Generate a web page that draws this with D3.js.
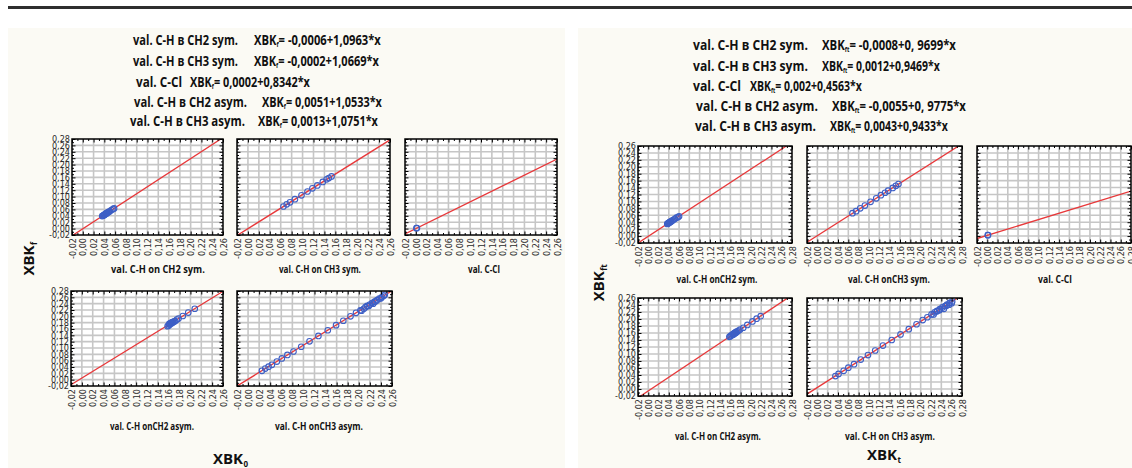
<!DOCTYPE html>
<html><head><meta charset="utf-8">
<script src="https://cdn.jsdelivr.net/npm/d3@7"></script>
<style>body{margin:0;background:#fff;} svg{display:block;}</style>
</head><body>
<svg id="c" width="1132" height="468"></svg>
<script>
// ---------- DATA ----------
const ticksLX = [-0.02,0.00,0.02,0.04,0.06,0.08,0.10,0.12,0.14,0.16,0.18,0.20,0.22,0.24,0.26];
const ticksLY = [-0.02,0.00,0.02,0.04,0.06,0.08,0.10,0.12,0.14,0.16,0.18,0.20,0.22,0.24,0.26,0.28];
const ticksRX = [-0.02,0.00,0.02,0.04,0.06,0.08,0.10,0.12,0.14,0.16,0.18,0.20,0.22,0.24,0.26,0.28];
const ticksRY = [-0.02,0.00,0.02,0.04,0.06,0.08,0.10,0.12,0.14,0.16,0.18,0.20,0.22,0.24,0.26];

const leftIntercepts = [-0.0006,-0.0002,0.0002,0.0051,0.0013];
const leftSlopes     = [1.0963,1.0669,0.8342,1.0533,1.0751];
const rightIntercepts = [-0.0008,0.0012,0.002,-0.0055,0.0043];
const rightSlopes     = [0.9699,0.9469,0.4563,0.9775,0.9433];

const leftEqLabels = ["val. C-H в CH2 sym.","val. C-H в CH3 sym.","val. C-Cl","val. C-H в CH2 asym.","val. C-H в CH3 asym."];
const leftEqFormulas = ["= -0,0006+1,0963*x","= -0,0002+1,0669*x","= 0,0002+0,8342*x","= 0,0051+1,0533*x","= 0,0013+1,0751*x"];
const rightEqLabels = ["val. C-H в CH2 sym.","val. C-H в CH3 sym.","val. C-Cl","val. C-H в CH2 asym.","val. C-H в CH3 asym."];
const rightEqFormulas = ["= -0,0008+0, 9699*x","= 0,0012+0,9469*x","= 0,002+0,4563*x","= -0,0055+0, 9775*x","= 0,0043+0,9433*x"];

const leftTitles = ["val. C-H on CH2 sym.","val. C-H on CH3 sym.","val. C-Cl","val. C-H onCH2 asym.","val. C-H onCH3 asym."];
const rightTitles = ["val. C-H onCH2 sym.","val. C-H onCH3 sym.","val. C-Cl","val. C-H on CH2 asym.","val. C-H  on CH3 asym."];

// left: CH2 sym
const l1x = [0.036,0.038,0.039,0.040,0.041,0.042,0.043,0.044,0.045,0.046,0.048,0.050,0.053,0.056,0.058];
const l1y = [0.039,0.041,0.042,0.043,0.044,0.046,0.047,0.047,0.049,0.050,0.052,0.054,0.058,0.061,0.063];
// left: CH3 sym
const l2x = [0.065,0.071,0.077,0.086,0.098,0.109,0.118,0.127,0.137,0.144,0.148,0.153];
const l2y = [0.069,0.076,0.082,0.092,0.104,0.116,0.126,0.135,0.146,0.154,0.158,0.163];
// left: C-Cl
const l3x = [0.001,0.002];
const l3y = [0.0012,0.0019];
// left: CH2 asym
const l4x = [0.158,0.160,0.161,0.162,0.163,0.164,0.165,0.166,0.167,0.168,0.170,0.172,0.175,0.178,0.186,0.196,0.208];
const l4y = [0.169,0.171,0.176,0.174,0.178,0.177,0.180,0.179,0.182,0.181,0.184,0.185,0.190,0.193,0.201,0.212,0.224];
// left: CH3 asym
const l5x = [0.025,0.031,0.037,0.043,0.052,0.061,0.071,0.082,0.096,0.111,0.127,0.144,0.159,0.172,0.185,0.195,0.203,0.205,0.209,0.212,0.215,0.218,0.220,0.224,0.226,0.228,0.230,0.233,0.237,0.240,0.242,0.245,0.247];
const l5y = [0.028,0.035,0.041,0.047,0.057,0.067,0.078,0.089,0.104,0.121,0.138,0.156,0.172,0.186,0.200,0.211,0.219,0.218,0.224,0.229,0.233,0.233,0.237,0.242,0.240,0.246,0.247,0.251,0.256,0.257,0.261,0.265,0.268];
// right: CH2 sym
const r1x = [0.037,0.038,0.039,0.040,0.041,0.042,0.043,0.044,0.045,0.047,0.049,0.052,0.055,0.058,0.060];
const r1y = [0.035,0.036,0.037,0.038,0.039,0.040,0.041,0.042,0.043,0.045,0.047,0.050,0.053,0.055,0.057];
// right: CH3 sym
const r2x = [0.068,0.075,0.083,0.092,0.103,0.114,0.123,0.131,0.137,0.146,0.152,0.157];
const r2y = [0.066,0.072,0.080,0.088,0.099,0.109,0.118,0.125,0.131,0.139,0.145,0.150];
// right: C-Cl
const r3x = [0.001,0.0015];
const r3y = [0.0025,0.003];
// right: CH2 asym
const r4x = [0.158,0.160,0.162,0.164,0.165,0.166,0.167,0.168,0.169,0.170,0.171,0.172,0.174,0.176,0.179,0.185,0.193,0.203,0.211,0.219];
const r4y = [0.149,0.151,0.153,0.155,0.157,0.156,0.158,0.160,0.159,0.161,0.163,0.162,0.165,0.167,0.170,0.175,0.183,0.193,0.201,0.208];
// right: CH3 asym
const r5x = [0.035,0.041,0.051,0.060,0.071,0.084,0.098,0.112,0.127,0.144,0.161,0.177,0.192,0.204,0.213,0.221,0.225,0.227,0.231,0.232,0.236,0.237,0.242,0.245,0.247,0.250,0.251,0.255,0.256,0.260,0.261];
const r5y = [0.037,0.043,0.052,0.061,0.071,0.084,0.097,0.110,0.124,0.140,0.156,0.171,0.185,0.197,0.205,0.213,0.213,0.219,0.222,0.223,0.225,0.228,0.233,0.229,0.237,0.238,0.241,0.241,0.246,0.245,0.250];

// ---------- LAYOUT ----------
const svg = d3.select("#c");
const BOLD = "'Open Sans','Noto Sans','DejaVu Sans',sans-serif";
const NARROW = "'Liberation Sans Narrow','Arial Narrow','DejaVu Sans Condensed',sans-serif";
const fmt = v => (v < -1e-9 ? "-" : "") + Math.abs(v).toFixed(2).replace(".", ",");

svg.append("rect").attr("x",8).attr("y",6).attr("width",1124).attr("height",3).attr("fill","#2e2e2e");
svg.append("rect").attr("x",8).attr("y",28).attr("width",557).attr("height",440).attr("fill","#fbfaf4");
svg.append("rect").attr("x",578).attr("y",28).attr("width",554).attr("height",440).attr("fill","#fbfaf4");

const leftFrames = [
  {x0:72,x1:223,y0:139,y1:235},{x0:237,x1:390,y0:139,y1:235},{x0:405,x1:557,y0:139,y1:235},
  {x0:71,x1:223,y0:291,y1:386},{x0:237,x1:392,y0:291,y1:386}];
const rightFrames = [
  {x0:638,x1:792,y0:146,y1:243},{x0:807,x1:962,y0:146,y1:243},{x0:977,x1:1131,y0:146,y1:243},
  {x0:638,x1:792,y0:298,y1:396},{x0:807,x1:962,y0:298,y1:396}];
const leftTitlePos = [[158,273,94],[320,273,82],[484,273,32],[152,430,84],[319,430,88]];
const rightTitlePos = [[717,283,81],[889,283,82],[1055,283,34],[718,440,86],[890,440,90]];
// [label start, label end, formula start, formula end, baseline]
const leftEqPos = [[133,238,254,381,45],[133,238,254,379,66],[136,182,190,310,87],[134,247,262,382,107],[130,245,258,378,126]];
const rightEqPos = [[693,808,822,956,50],[693,808,822,940,71],[693,741,750,862,91],[696,818,832,966,111],[695,816,830,948,131]];

let clipId = 0;
function mids(t){ const m=[]; for(let i=0;i<t.length-1;i++) m.push((t[i]+t[i+1])/2); return m; }

// text run made of separate pieces [string, sizeFactor, dy], horizontally scaled to a target width
function run(x0, yb, size, parts, target){
  const g = svg.append("g");
  const els = parts.map(p => g.append("text").attr("y", p[2]||0).text(p[0])
    .attr("font-family",BOLD).attr("font-weight",700).attr("font-size",size*(p[1]||1)).attr("fill","#111"));
  const w = els.map(e => e.node().getComputedTextLength());
  let cx = 0;
  els.forEach((e,i)=>{ e.attr("x",cx); cx += w[i]; });
  const k = target ? target/cx : 1;
  g.attr("transform",`translate(${x0},${yb}) scale(${k},1)`);
}

function plot(f, xt, yt, xs, ys, a, b, showY, title, tpos){
  const g = svg.append("g");
  const x = d3.scaleLinear().domain([xt[0], xt[xt.length-1]]).range([f.x0, f.x1]);
  const y = d3.scaleLinear().domain([yt[0], yt[yt.length-1]]).range([f.y1, f.y0]);
  g.append("rect").attr("x",f.x0).attr("y",f.y0).attr("width",f.x1-f.x0).attr("height",f.y1-f.y0).attr("fill","#fff");
  g.append("g").selectAll("line").data(xt.slice(1,-1)).join("line")
    .attr("x1",d=>x(d)).attr("x2",d=>x(d)).attr("y1",f.y0).attr("y2",f.y1)
    .attr("stroke","#c6c6c6").attr("stroke-width",1.6);
  g.append("g").selectAll("line").data(yt.slice(1,-1)).join("line")
    .attr("y1",d=>y(d)).attr("y2",d=>y(d)).attr("x1",f.x0).attr("x2",f.x1)
    .attr("stroke","#c6c6c6").attr("stroke-width",1.6);
  const id = "clip"+(clipId++);
  g.append("clipPath").attr("id",id).append("rect")
    .attr("x",f.x0).attr("y",f.y0).attr("width",f.x1-f.x0).attr("height",f.y1-f.y0);
  const dom = x.domain();
  g.append("line").attr("clip-path",`url(#${id})`)
    .attr("x1",x(dom[0])).attr("y1",y(a+b*dom[0])).attr("x2",x(dom[1])).attr("y2",y(a+b*dom[1]))
    .attr("stroke","#e8383a").attr("stroke-width",1.3);
  g.append("g").attr("clip-path",`url(#${id})`).selectAll("circle").data(xs.map((v,i)=>[v,ys[i]])).join("circle")
    .attr("cx",d=>x(d[0])).attr("cy",d=>y(d[1])).attr("r",2.8)
    .attr("fill","none").attr("stroke","#3d5fc6").attr("stroke-width",1.1);
  const styleAxis = sel => { sel.select(".domain").remove(); sel.selectAll("line").attr("stroke","#000"); };
  const bottom = g.append("g").attr("transform",`translate(0,${f.y1})`)
    .call(d3.axisBottom(x).tickValues(xt).tickSize(-3.5).tickFormat(fmt)).call(styleAxis);
  bottom.selectAll("text").attr("transform","rotate(-90)").attr("x",-3).attr("y",0).attr("dy","0.35em")
    .attr("text-anchor","end").attr("font-family",NARROW).attr("font-size",9).attr("fill","#2a2a2a");
  g.append("g").attr("transform",`translate(0,${f.y1})`).call(d3.axisBottom(x).tickValues(mids(xt)).tickSize(-2).tickFormat("")).call(styleAxis);
  g.append("g").attr("transform",`translate(0,${f.y0})`).call(d3.axisTop(x).tickValues(xt).tickSize(-3.5).tickFormat("")).call(styleAxis);
  g.append("g").attr("transform",`translate(0,${f.y0})`).call(d3.axisTop(x).tickValues(mids(xt)).tickSize(-2).tickFormat("")).call(styleAxis);
  const left = g.append("g").attr("transform",`translate(${f.x0},0)`)
    .call(d3.axisLeft(y).tickValues(yt).tickSize(-3.5).tickPadding(2).tickFormat(showY?fmt:"")).call(styleAxis);
  left.selectAll("text").attr("font-family",NARROW).attr("font-size",9).attr("fill","#2a2a2a");
  g.append("g").attr("transform",`translate(${f.x0},0)`).call(d3.axisLeft(y).tickValues(mids(yt)).tickSize(-2).tickFormat("")).call(styleAxis);
  g.append("g").attr("transform",`translate(${f.x1},0)`).call(d3.axisRight(y).tickValues(yt).tickSize(-3.5).tickFormat("")).call(styleAxis);
  g.append("g").attr("transform",`translate(${f.x1},0)`).call(d3.axisRight(y).tickValues(mids(yt)).tickSize(-2).tickFormat("")).call(styleAxis);
  g.selectAll("text").filter(function(){ return this.textContent === ""; }).remove();
  g.append("rect").attr("x",f.x0).attr("y",f.y0).attr("width",f.x1-f.x0).attr("height",f.y1-f.y0)
    .attr("fill","none").attr("stroke","#000").attr("stroke-width",1.5);
  run(tpos[0]-tpos[2]/2, tpos[1], 10, [[title]], tpos[2]);
}

const leftData = [[l1x,l1y],[l2x,l2y],[l3x,l3y],[l4x,l4y],[l5x,l5y]];
const rightData = [[r1x,r1y],[r2x,r2y],[r3x,r3y],[r4x,r4y],[r5x,r5y]];
leftFrames.forEach((f,i)=>plot(f,ticksLX,ticksLY,leftData[i][0],leftData[i][1],leftIntercepts[i],leftSlopes[i],i===0||i===3,leftTitles[i],leftTitlePos[i]));
rightFrames.forEach((f,i)=>plot(f,ticksRX,ticksRY,rightData[i][0],rightData[i][1],rightIntercepts[i],rightSlopes[i],i===0||i===3,rightTitles[i],rightTitlePos[i]));

function eq(label, formula, sub, p){
  run(p[0], p[4], 14, [[label]], p[1]-p[0]);
  run(p[2], p[4], 14, [["XBK"],[sub,0.5,2],[" "+formula]], p[3]-p[2]);
}
leftEqLabels.forEach((l,i)=>eq(l,leftEqFormulas[i],"f",leftEqPos[i]));
rightEqLabels.forEach((l,i)=>eq(l,rightEqFormulas[i],"ft",rightEqPos[i]));

function bigTitle(x, yc, sub, rot){
  const g = svg.append("g").attr("transform", rot ? `translate(${x},${yc}) rotate(-90)` : `translate(${x},${yc})`);
  const a = g.append("text").text("XBK").attr("font-family",BOLD).attr("font-weight",700).attr("font-size",15).attr("fill","#111");
  const b = g.append("text").text(sub).attr("font-family",BOLD).attr("font-weight",700).attr("font-size",8).attr("fill","#111").attr("y",3);
  const wa = a.node().getComputedTextLength(), wb = b.node().getComputedTextLength();
  const start = rot ? -(wa+wb)/2 : 0;
  a.attr("x",start); b.attr("x",start+wa+0.5);
}
bigTitle(34,259,"f",true);
bigTitle(604,283,"ft",true);
bigTitle(213,464,"0",false);
bigTitle(867,460,"t",false);
</script></body></html>
